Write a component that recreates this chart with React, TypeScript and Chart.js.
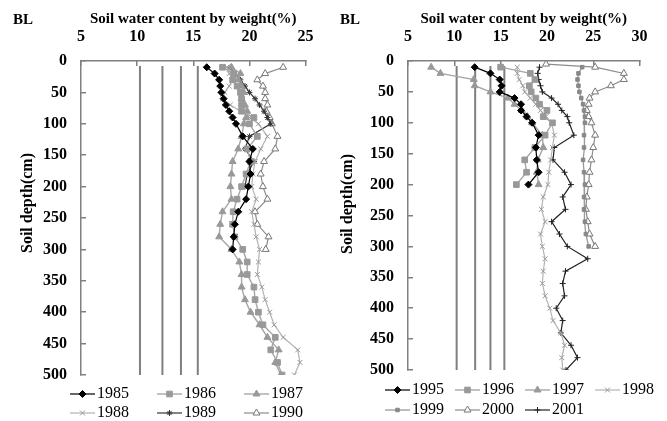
import React, { useEffect, useRef } from 'react';
import { Chart, registerables } from 'chart.js';
import { drawPoint } from 'chart.js/helpers';

Chart.register(...registerables);

const FONT = "'Liberation Serif', 'Times New Roman', serif";
Chart.defaults.font.family = FONT;
Chart.defaults.color = '#000';

// ---------------- data ----------------
const depthsCm = [10, 20, 30, 40, 50, 60, 70, 80, 90, 100, 120, 140, 160, 180, 200, 220, 240, 260, 280, 300, 320, 340, 360, 380, 400, 420, 440, 460, 480, 500];
const depths2000Cm = [5, 10, 20, 30, 40, 50, 60, 70, 80, 90, 100, 120, 140, 160, 180, 200, 220, 240, 260, 280, 300];

// left panel
const leftYears = ['1985', '1986', '1987', '1988', '1989', '1990'];
const vals1985 = [16.2, 16.9, 17.3, 17.4, 17.5, 17.7, 17.9, 18.2, 18.5, 18.8, 19.4, 20.3, 20.0, 20.1, 19.9, 19.7, 19.0, 18.7, 18.6, 18.5];
const vals1986 = [17.6, 18.6, 18.5, 18.9, 19.2, 19.3, 19.3, 19.3, 20.4, 20.0, 20.7, 19.8, 20.1, 19.7, 19.3, 18.9, 18.55, 18.5, 18.7, 19.4, 19.8, 19.8, 20.4, 20.5, 20.8, 21.2, 22.3, 21.9, 22.5, 22.9];
const vals1987 = [18.4, 19.2, 19.0, 19.3, 19.5, 19.3, 19.6, 19.8, 19.7, 19.5, 19.3, 19.0, 18.5, 18.4, 18.3, 18.4, 17.6, 17.4, 17.3, 18.4, 19.1, 19.3, 19.3, 19.6, 20.1, 20.9, 21.6, 22.6, 22.3, 22.8];
const vals1988 = [18.0, 18.2, 18.5, 18.2, 17.8, 17.6, 18.3, 19.2, 20.0, 20.8, 21.6, 21.0, 20.5, 20.3, 20.2, 20.6, 20.2, 20.4, 20.6, 20.9, 20.8, 20.7, 21.1, 21.4, 21.8, 22.2, 23.0, 24.3, 24.5, 24.0];
const vals1989 = [18.3, 18.6, 19.2, 19.6, 20.0, 20.5, 20.9, 21.3, 21.6, 21.9, 20.0, 19.6, 20.4, 19.8, 19.6];
const vals1990 = [23.0, 21.4, 20.7, 21.2, 21.4, 21.4, 21.6, 21.5, 21.8, 22.0, 22.5, 22.3, 21.3, 21.0, 21.2, 21.6, 20.5, 20.7, 21.7, 21.45];

// right panel
const rightYears = ['1995', '1996', '1997', '1998', '1999', '2000', '2001'];
const vals1995 = [12.2, 13.9, 14.9, 15.1, 14.9, 16.5, 17.2, 17.2, 17.8, 18.4, 19.1, 18.8, 18.9, 19.1, 18.0];
const vals1996 = [15.0, 18.2, 18.7, 18.1, 18.3, 18.8, 19.2, 20.0, 19.6, 20.6, 19.8, 18.7, 17.6, 17.8, 16.7];
const vals1997 = [7.5, 8.5, 12.1, 12.2, 13.9, 15.8, 16.5, 17.3, 17.9, 18.4, 19.5, 19.6, 19.0, 18.9, 19.1];
const vals1998 = [16.8, 16.8, 17.0, 17.4, 17.6, 18.2, 18.8, 19.3, 19.9, 20.5, 20.8, 20.6, 20.4, 20.2, 20.1, 19.6, 19.4, 19.8, 19.3, 19.5, 19.8, 19.6, 19.5, 19.8, 20.3, 20.65, 21.5, 21.9, 21.6, 21.7];
const vals1999 = [23.8, 23.4, 23.3, 23.4, 23.5, 23.7, 23.9, 24.0, 24.1, 24.1, 24.0, 24.0, 23.9, 24.0, 24.1, 24.0, 24.0, 24.1, 24.2, 24.5];
const vals2000 = [19.9, 25.2, 28.3, 28.3, 26.9, 25.2, 24.6, 24.5, 24.3, 24.5, 24.8, 25.2, 25.0, 24.8, 24.6, 24.5, 24.3, 24.2, 24.4, 24.6, 25.2];
const vals2001 = [19.2, 19.0, 19.1, 19.3, 19.5, 20.5, 21.2, 21.6, 22.2, 22.4, 22.9, 20.8, 20.65, 21.9, 22.6, 21.7, 22.0, 20.5, 21.35, 22.2, 24.4, 22.0, 21.7, 21.9, 21.0, 21.7, 21.5, 22.6, 23.3, 22.05];

// reference vertical lines (soil water constants)
const refLineValues = [10.25, 12.25, 13.9, 15.4];
const refLineDepths = [8, 500];

const depthTicks = { min: 0, max: 500, step: 50 };
const leftWaterTicks = { min: 5, max: 25, step: 5 };
const rightWaterTicks = { min: 5, max: 30, step: 5 };

const xTitle = 'Soil water content by weight(%)';
const yTitle = 'Soil depth(cm)';
const cornerLabel = 'BL';

// ---------------- styles ----------------
type Sty = { line: string; marker: string; fill: string; style: string; radius: number; lw: number };
const ST: Record<string, Sty> = {
  diamondBlack: { line: '#000', marker: '#000', fill: '#000', style: 'rectRot', radius: 3.5, lw: 1.2 },
  squareGray: { line: '#a6a6a6', marker: '#999', fill: '#999', style: 'rect', radius: 4, lw: 1.4 },
  triGray: { line: '#a6a6a6', marker: '#999', fill: '#999', style: 'triangle', radius: 4, lw: 1.4 },
  crossGray: { line: '#b3b3b3', marker: '#999', fill: '#999', style: 'crossRot', radius: 3.5, lw: 1.2 },
  starDark: { line: '#333', marker: '#333', fill: '#333', style: 'star', radius: 3, lw: 1.2 },
  triOpen: { line: '#8c8c8c', marker: '#777', fill: '#fff', style: 'triangle', radius: 4, lw: 1.2 },
  rectSmall: { line: '#999', marker: '#888', fill: '#888', style: 'rect', radius: 2.5, lw: 1.3 },
  plusBlack: { line: '#222', marker: '#222', fill: '#222', style: 'cross', radius: 3, lw: 1.2 },
};

type Series = { label: string; values: number[]; depths: number[]; sty: Sty };

const leftSeries: Series[] = [
  { label: leftYears[0], values: vals1985, depths: depthsCm, sty: ST.diamondBlack },
  { label: leftYears[1], values: vals1986, depths: depthsCm, sty: ST.squareGray },
  { label: leftYears[2], values: vals1987, depths: depthsCm, sty: ST.triGray },
  { label: leftYears[3], values: vals1988, depths: depthsCm, sty: ST.crossGray },
  { label: leftYears[4], values: vals1989, depths: depthsCm, sty: ST.starDark },
  { label: leftYears[5], values: vals1990, depths: depthsCm, sty: ST.triOpen },
];

const rightSeries: Series[] = [
  { label: rightYears[0], values: vals1995, depths: depthsCm, sty: ST.diamondBlack },
  { label: rightYears[1], values: vals1996, depths: depthsCm, sty: ST.squareGray },
  { label: rightYears[2], values: vals1997, depths: depthsCm, sty: ST.triGray },
  { label: rightYears[3], values: vals1998, depths: depthsCm, sty: ST.crossGray },
  { label: rightYears[4], values: vals1999, depths: depthsCm, sty: ST.rectSmall },
  { label: rightYears[5], values: vals2000, depths: depths2000Cm, sty: ST.triOpen },
  { label: rightYears[6], values: vals2001, depths: depthsCm, sty: ST.plusBlack },
];

type PanelCfg = {
  left: number;
  width: number;
  series: Series[];
  xt: { min: number; max: number; step: number };
  padRight: number;
  padBottom: number;
  yAxisWidth: number;
  yTitleX: number;
  yTitleY: number;
  bw: number;
  legendPad: number;
  legendLeft: number;
  cornerX: number;
};

const panels: PanelCfg[] = [
  { left: 0, width: 333, series: leftSeries, xt: leftWaterTicks, padRight: 15, padBottom: -10, yAxisWidth: 81, yTitleX: 28, yTitleY: 203, bw: 44, legendPad: 3, legendLeft: 42, cornerX: 13 },
  { left: 333, width: 334, series: rightSeries, xt: rightWaterTicks, padRight: 19, padBottom: -7, yAxisWidth: 75, yTitleX: 15, yTitleY: 204, bw: 26, legendPad: 4, legendLeft: 41, cornerX: 7 },
];

function makeLegendImage(sty: Sty, bw: number): HTMLCanvasElement {
  const w = bw + 12;
  const h = 12;
  const c = document.createElement('canvas');
  c.width = w;
  c.height = h;
  const ctx = c.getContext('2d')!;
  ctx.strokeStyle = sty.line;
  ctx.lineWidth = sty.lw;
  ctx.beginPath();
  ctx.moveTo(w - 25, h / 2);
  ctx.lineTo(w, h / 2);
  ctx.stroke();
  ctx.fillStyle = sty.fill;
  ctx.strokeStyle = sty.marker;
  ctx.lineWidth = 1;
  drawPoint(ctx, { pointStyle: sty.style as any, radius: sty.radius, rotation: 0, borderWidth: 1 } as any, w - 12.5, h / 2);
  return c;
}

function buildConfig(p: PanelCfg): any {
  const datasets: any[] = p.series.map((s) => ({
    label: s.label,
    data: s.values.map((v, i) => ({ x: v, y: s.depths[i] })),
    borderColor: s.sty.line,
    borderWidth: s.sty.lw,
    pointStyle: s.sty.style,
    pointRadius: s.sty.radius,
    pointBackgroundColor: s.sty.fill,
    pointBorderColor: s.sty.marker,
    pointBorderWidth: 1,
    showLine: true,
    fill: false,
    tension: 0,
  }));
  refLineValues.forEach((v) => {
    datasets.push({
      label: '',
      data: refLineDepths.map((d) => ({ x: v, y: d })),
      borderColor: '#7f7f7f',
      borderWidth: 2,
      pointRadius: 0,
      showLine: true,
      fill: false,
    });
  });
  const imgs = p.series.map((s) => makeLegendImage(s.sty, p.bw));
  const axisColor = '#808080';
  return {
    type: 'line',
    data: { datasets },
    options: {
      responsive: false,
      animation: false,
      events: [],
      layout: { padding: { left: 0, right: p.padRight, top: 10, bottom: p.padBottom } },
      scales: {
        x: {
          type: 'linear',
          position: 'top',
          min: p.xt.min,
          max: p.xt.max,
          ticks: { stepSize: p.xt.step, padding: 19.4, color: '#000', font: { size: 16, weight: 'bold' } },
          grid: { drawOnChartArea: false, tickLength: -5, color: axisColor, lineWidth: 1.5 },
          border: { color: axisColor, width: 1.5 },
          title: { display: true, text: xTitle, color: '#000', font: { size: 15, weight: 'bold' }, padding: { top: 0, bottom: -20 } },
        },
        y: {
          type: 'linear',
          reverse: true,
          min: depthTicks.min,
          max: depthTicks.max,
          ticks: { stepSize: depthTicks.step, padding: 19, color: '#000', font: { size: 16, weight: 'bold' } },
          grid: { drawOnChartArea: false, tickLength: -5, color: axisColor, lineWidth: 1.5 },
          border: { color: axisColor, width: 1.5 },
          title: { display: false },
          afterFit: (scale: any) => {
            scale.width = p.yAxisWidth;
          },
        },
      },
      plugins: {
        legend: {
          position: 'bottom',
          align: 'start',
          fullSize: true,
          title: { display: true, text: '', padding: { top: 7, bottom: 0 }, font: { size: 1, lineHeight: 1 } },
          labels: {
            usePointStyle: true,
            pointStyleWidth: p.bw,
            padding: p.legendPad,
            color: '#000',
            font: { size: 16 },
            generateLabels: () =>
              p.series.map((s, i) => ({
                text: s.label,
                pointStyle: imgs[i],
                datasetIndex: i,
                hidden: false,
                lineWidth: 0,
                fillStyle: 'transparent',
                strokeStyle: 'transparent',
                fontColor: '#000',
              })),
          },
        },
        tooltip: { enabled: false },
      },
    },
    plugins: [
      {
        id: 'legendShift',
        afterLayout(chart: any) {
          const lg = chart.legend;
          if (lg) {
            const d = p.legendLeft - lg.left;
            lg.left += d;
            lg.right += d;
          }
        },
      },
      {
        id: 'depthTitle',
        afterDraw(chart: any) {
          const ctx = chart.ctx;
          ctx.save();
          ctx.translate(p.yTitleX, p.yTitleY);
          ctx.rotate(-Math.PI / 2);
          ctx.font = `bold 16px ${FONT}`;
          ctx.fillStyle = '#000';
          ctx.textAlign = 'center';
          ctx.textBaseline = 'middle';
          ctx.fillText(yTitle, 0, 0);
          ctx.restore();
        },
      },
    ],
  };
}

function Panel({ cfg }: { cfg: PanelCfg }) {
  const ref = useRef<HTMLCanvasElement>(null);
  useEffect(() => {
    const chart = new Chart(ref.current!, buildConfig(cfg));
    return () => chart.destroy();
  }, [cfg]);
  return (
    <div style={{ position: 'absolute', left: cfg.left, top: 0, width: cfg.width, height: 421 }}>
      <canvas ref={ref} width={cfg.width} height={421} style={{ width: cfg.width, height: 421, display: 'block' }} />
      <div
        style={{
          position: 'absolute',
          left: cfg.cornerX,
          top: 12,
          font: `bold 15px ${FONT}`,
          lineHeight: '15px',
          color: '#000',
        }}
      >
        {cornerLabel}
      </div>
    </div>
  );
}

export default function App() {
  return (
    <div style={{ position: 'fixed', left: 0, top: 0, width: 667, height: 421, background: '#fff', overflow: 'hidden' }}>
      {panels.map((p, i) => (
        <Panel key={i} cfg={p} />
      ))}
    </div>
  );
}
